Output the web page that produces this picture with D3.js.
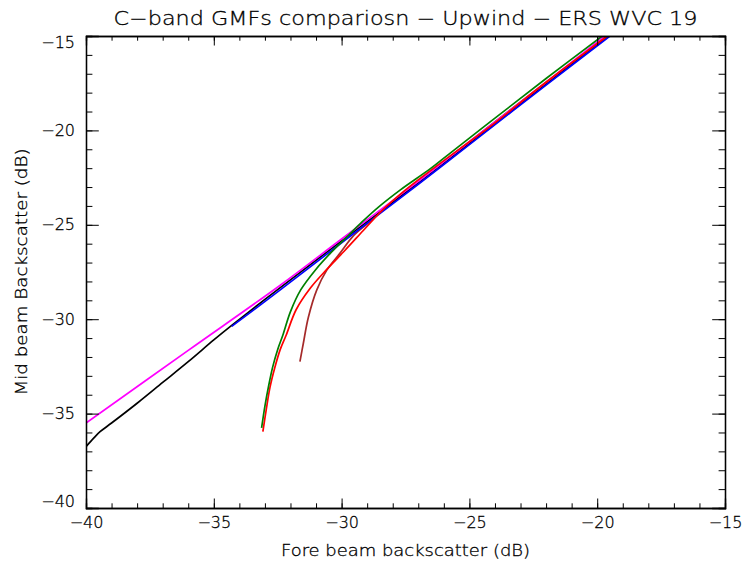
<!DOCTYPE html>
<html>
<head>
<meta charset="utf-8">
<script src="https://cdn.jsdelivr.net/npm/d3@7/dist/d3.min.js"></script>
<style>
  html, body { margin: 0; padding: 0; background: #fff; }
  svg text { font-family: "DejaVu Sans", sans-serif; fill: #000; stroke: #000; stroke-width: 0.3px; }
</style>
</head>
<body>
<svg id="chart" width="743" height="563"></svg>
<script>
// ---- data ----
const titleText = "C\u2212band GMFs compariosn \u2212 Upwind \u2212 ERS WVC 19";
const xLabelText = "Fore beam backscatter (dB)";
const yLabelText = "Mid beam Backscatter (dB)";
const xTicks = [-40, -35, -30, -25, -20, -15];
const yTicks = [-40, -35, -30, -25, -20, -15];

const magentaX = [-40, -36, -32.4, -30, -27, -25, -22, -19.7];
const magentaY = [-35.5, -31.65, -28.2, -25.75, -22.7, -20.6, -17.45, -15];

const blackX = [-40, -39.7, -39.45, -39, -38, -37, -36, -35, -34.3, -33, -32.4, -30, -27, -25, -22, -19.55];
const blackY = [-36.75, -36.3, -35.96, -35.5, -34.45, -33.35, -32.25, -31.1, -30.33, -28.95, -28.33, -25.85, -22.8, -20.7, -17.55, -15];

const blueX = [-34.3, -32.4, -30, -27, -25, -22, -19.5];
const blueY = [-30.38, -28.45, -25.95, -22.85, -20.75, -17.6, -15];

const greenX = [-33.13, -33.0, -32.85, -32.7, -32.5, -32.3, -32.0, -31.6, -31.0, -30.4, -29.8, -29.2, -28.5, -27.7, -26.5, -25.75, -24, -22, -19.8];
const greenY = [-35.75, -34.6, -33.5, -32.55, -31.6, -30.85, -29.6, -28.45, -27.35, -26.45, -25.65, -24.85, -24.0, -23.15, -22.0, -21.2, -19.35, -17.25, -15];

const redX = [-33.08, -32.95, -32.8, -32.62, -32.4, -32.17, -31.78, -31.22, -30.57, -29.9, -29.15, -28.5, -27.5, -26, -24, -22, -19.6];
const redY = [-35.95, -34.8, -33.6, -32.6, -31.6, -30.85, -29.5, -28.35, -27.35, -26.4, -25.3, -24.35, -23.15, -21.6, -19.6, -17.45, -15];

const brownX = [-31.63, -31.5, -31.3, -30.97, -30.58, -30.06, -29.55, -29.0, -28.5, -27, -25, -22, -19.6];
const brownY = [-32.25, -31.3, -29.9, -28.45, -27.4, -26.5, -25.6, -24.95, -24.35, -22.7, -20.6, -17.45, -15];

// ---- layout ----
const svg = d3.select("#chart");
const PL = 86, PR = 725, PT = 36, PB = 508;
const x = d3.scaleLinear().domain([-40, -15]).range([PL, PR]);
const y = d3.scaleLinear().domain([-40, -15]).range([PB, PT]);

const series = [
  {xs: brownX, ys: brownY, color: "#a52a2a"},
  {xs: blackX, ys: blackY, color: "#000000"},
  {xs: blueX, ys: blueY, color: "#0000ff"},
  {xs: magentaX, ys: magentaY, color: "#ff00ff"},
  {xs: redX, ys: redY, color: "#ff0000"},
  {xs: greenX, ys: greenY, color: "#008000"}
];

svg.append("clipPath").attr("id", "plotclip")
  .append("rect").attr("x", PL).attr("y", PT).attr("width", PR - PL).attr("height", PB - PT);

const line = d3.line().x(d => x(d[0])).y(d => y(d[1])).curve(d3.curveCatmullRom.alpha(0.5));
const g = svg.append("g").attr("clip-path", "url(#plotclip)");
series.forEach(s => {
  const pts = s.xs.map((v, i) => [v, s.ys[i]]);
  g.append("path").attr("d", line(pts)).attr("fill", "none")
    .attr("stroke", s.color).attr("stroke-width", 1.7);
});

// ---- axes (IDL style: ticks inward on all four sides) ----
const xMinor = d3.range(-40, -14.5, 1);
const yMinor = d3.range(-40, -14.5, 1);
const xMajLen = 9.5, xMinLen = 4.7, yMajLen = 12.8, yMinLen = 6.4;
const fmt = d => d3.format("d")(d).replace("-", "\u2212");

svg.append("g").attr("transform", `translate(0,${PB})`)
  .call(d3.axisBottom(x).tickValues(xTicks).tickSize(-xMajLen).tickPadding(9).tickFormat(fmt));
svg.append("g").attr("transform", `translate(0,${PT})`)
  .call(d3.axisTop(x).tickValues(xTicks).tickSize(-xMajLen).tickFormat(""));
const leftAxis = svg.append("g").attr("transform", `translate(${PL},0)`)
  .call(d3.axisLeft(y).tickValues(yTicks).tickSize(-yMajLen).tickPadding(11).tickFormat(fmt));
svg.append("g").attr("transform", `translate(${PR},0)`)
  .call(d3.axisRight(y).tickValues(yTicks).tickSize(-yMajLen).tickFormat(""));

svg.append("g").attr("transform", `translate(0,${PB})`)
  .call(d3.axisBottom(x).tickValues(xMinor).tickSize(-xMinLen).tickFormat(""));
svg.append("g").attr("transform", `translate(0,${PT})`)
  .call(d3.axisTop(x).tickValues(xMinor).tickSize(-xMinLen).tickFormat(""));
svg.append("g").attr("transform", `translate(${PL},0)`)
  .call(d3.axisLeft(y).tickValues(yMinor).tickSize(-yMinLen).tickFormat(""));
svg.append("g").attr("transform", `translate(${PR},0)`)
  .call(d3.axisRight(y).tickValues(yMinor).tickSize(-yMinLen).tickFormat(""));

// the end labels of the y axis sit just inside the frame, as in the reference
leftAxis.selectAll(".tick text").attr("y", d => d === -15 ? 6 : (d === -40 ? -7 : 0));

svg.selectAll(".domain").attr("stroke", "#000").attr("stroke-width", 1.3);
svg.selectAll(".tick line").attr("stroke", "#000").attr("stroke-width", 1);
svg.selectAll(".tick text").attr("font-size", 16).attr("font-family", "DejaVu Sans, sans-serif")
  .attr("font-weight", 300).attr("fill", "#000");

// ---- titles ----
svg.append("text").attr("x", (PL + PR) / 2).attr("y", 25).attr("text-anchor", "middle")
  .attr("font-size", 19).attr("font-weight", 300).attr("textLength", 584).attr("lengthAdjust", "spacingAndGlyphs")
  .text(titleText);
svg.append("text").attr("x", (PL + PR) / 2).attr("y", 556).attr("text-anchor", "middle")
  .attr("font-size", 16).attr("font-weight", 300).attr("textLength", 249).attr("lengthAdjust", "spacingAndGlyphs")
  .text(xLabelText);
svg.append("text").attr("transform", `translate(27,${(PT + PB) / 2}) rotate(-90)`)
  .attr("text-anchor", "middle")
  .attr("font-size", 16).attr("font-weight", 300).attr("textLength", 247).attr("lengthAdjust", "spacingAndGlyphs")
  .text(yLabelText);
</script>
</body>
</html>
